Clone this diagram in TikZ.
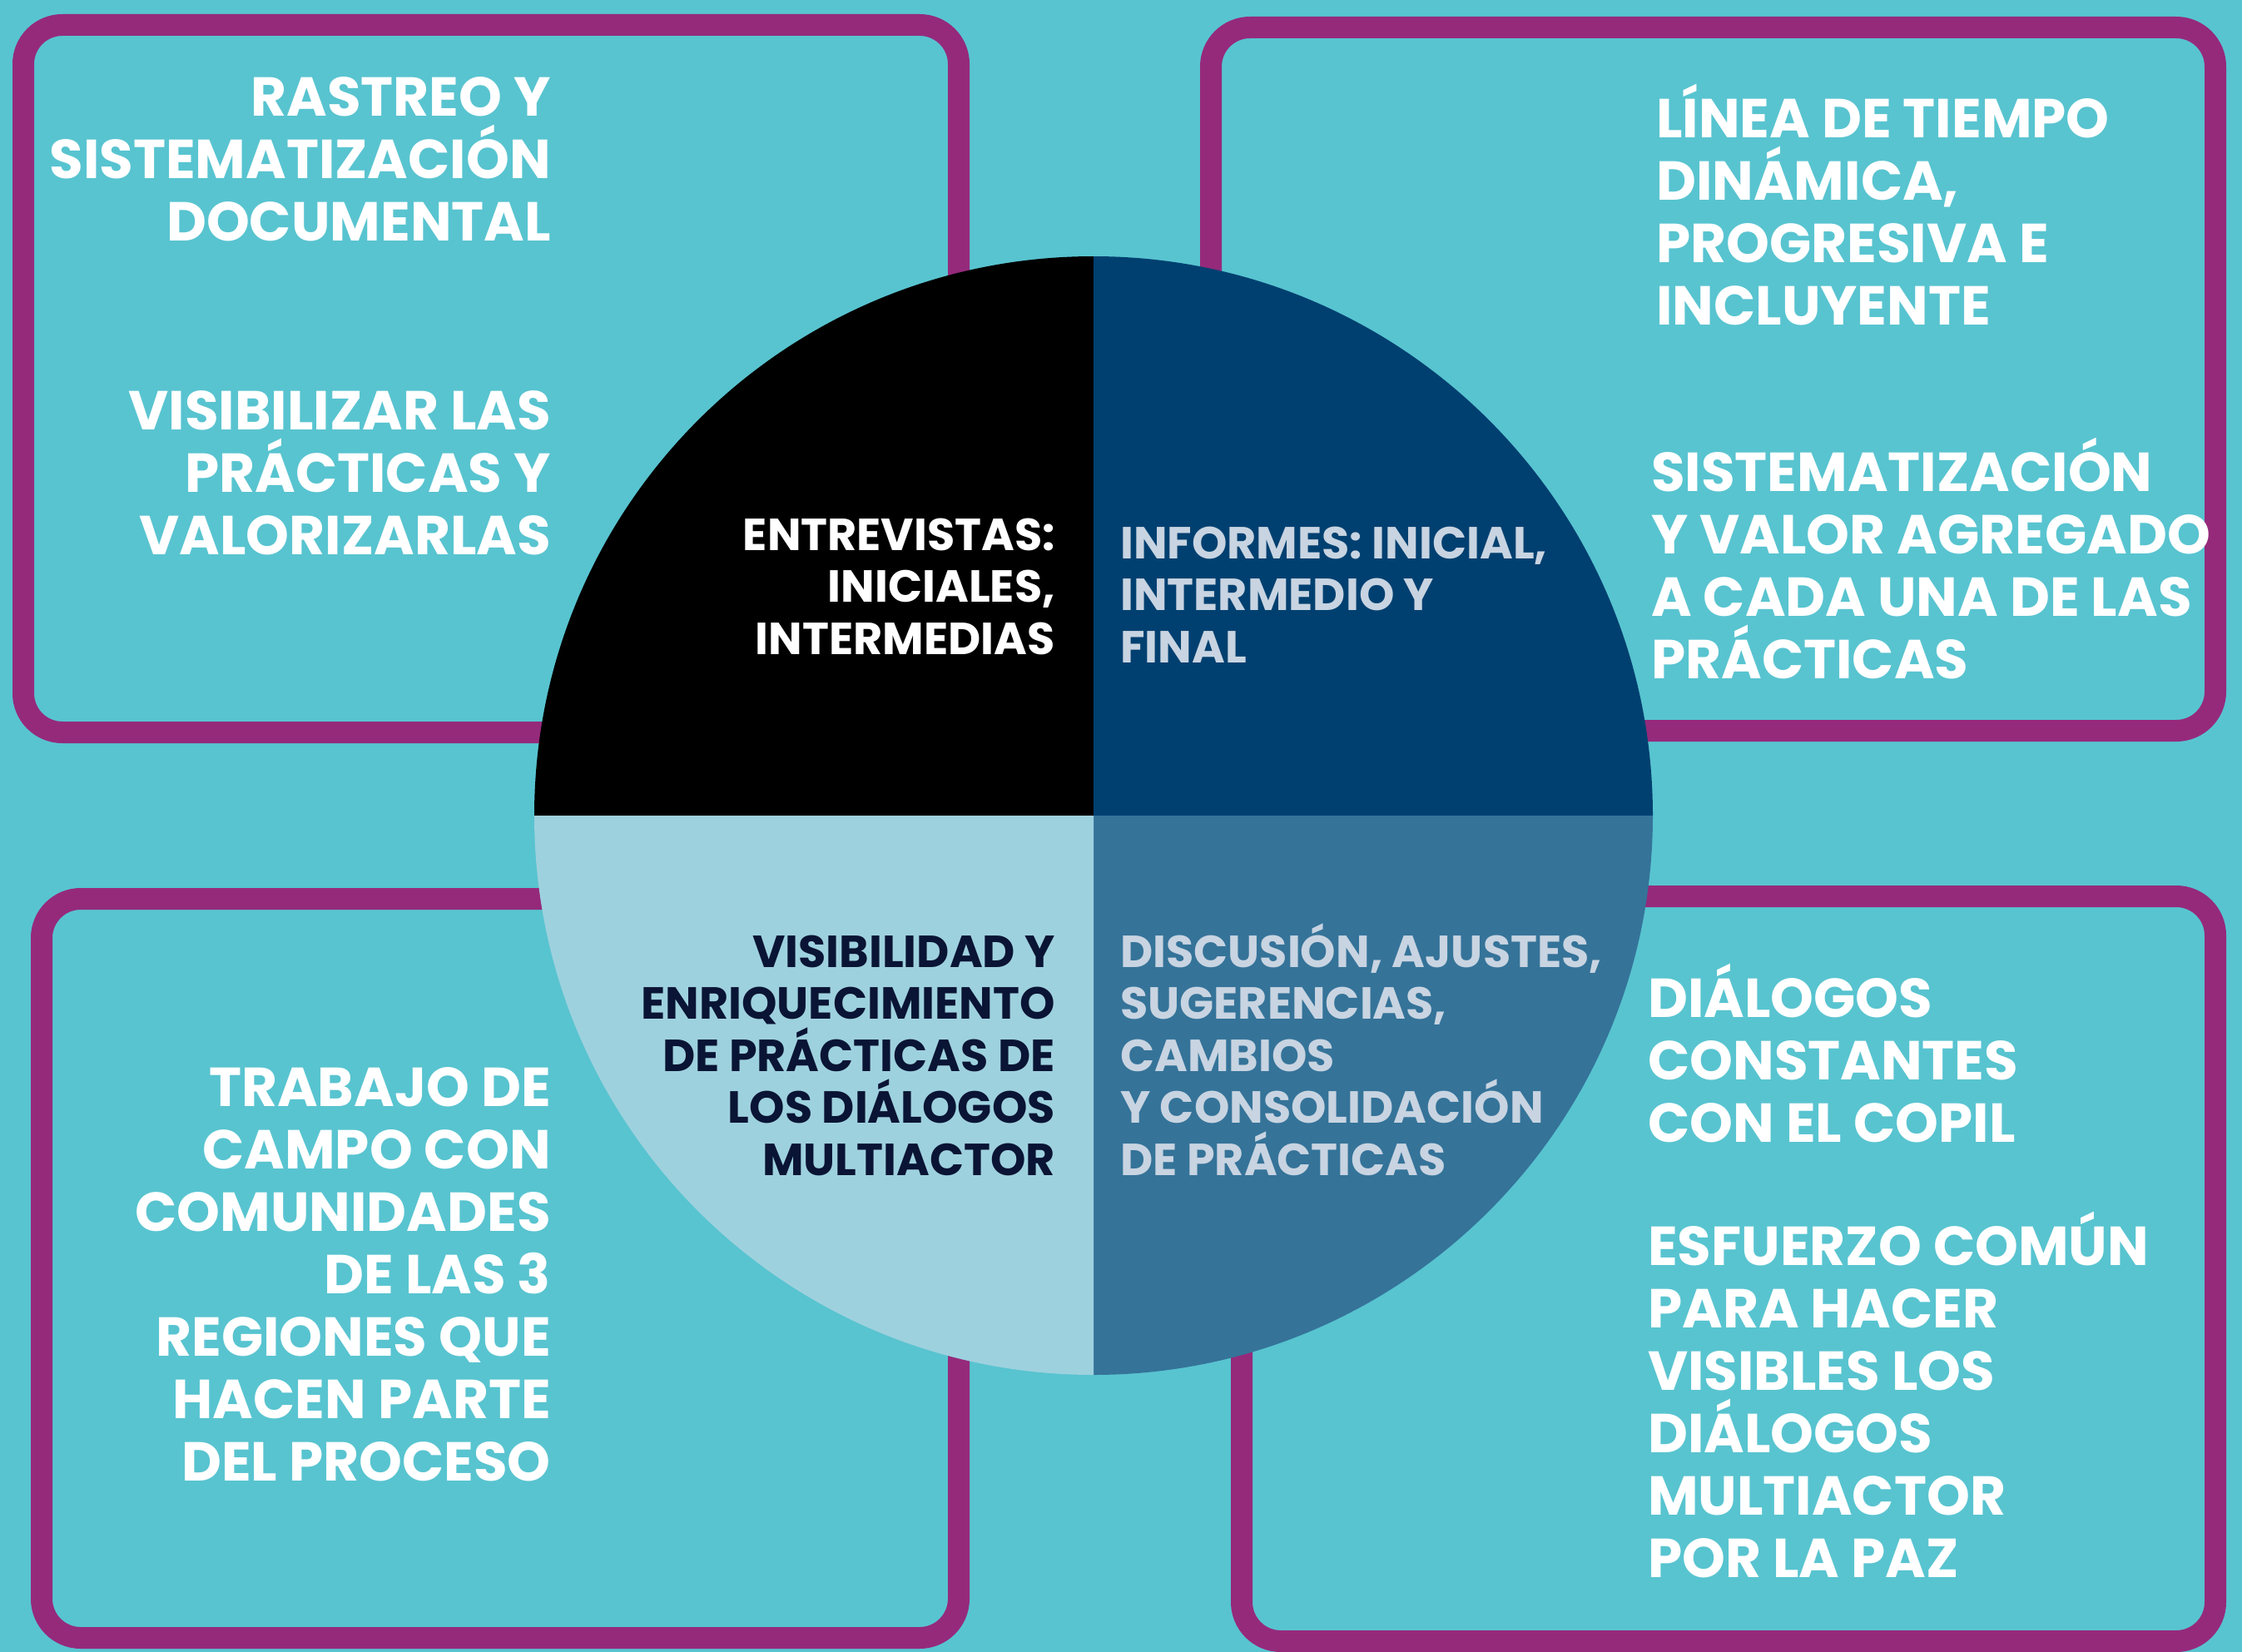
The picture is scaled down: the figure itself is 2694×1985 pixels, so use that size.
\documentclass[tikz,border=0pt]{standalone}
\usepackage{fontspec}
\setmainfont{Poppins}
\definecolor{bgteal}{RGB}{88,196,208}
\definecolor{purp}{RGB}{149,42,123}
\definecolor{navy}{RGB}{0,64,112}
\definecolor{steel}{RGB}{53,115,153}
\definecolor{pale}{RGB}{158,209,222}
\definecolor{lighttxt}{RGB}{200,212,225}
\definecolor{darktxt}{RGB}{10,20,52}
\begin{document}
\begin{tikzpicture}[x=1pt,y=-1pt,
  boxline/.style={draw=purp, line width=26pt, rounded corners=47pt},
  outtxt/.style={text=white, font=\bfseries\fontsize{66}{75}\selectfont, inner sep=0pt},
  pietxt/.style={font=\bfseries\fontsize{54}{62.5}\selectfont, inner sep=0pt},
]
\useasboundingbox (0,0) rectangle (2694,1985);
\fill[bgteal] (0,0) rectangle (2694,1985);
% frames
\draw[boxline] (28,30) rectangle (1152,880);
\draw[boxline] (1455,33) rectangle (2662,878);
\draw[boxline] (50,1080) rectangle (1152,1968);
\draw[boxline] (1492,1077) rectangle (2662,1972);
% pie
\coordinate (c) at (1314,980);
\fill[black] (c) -- ++(-672,0) arc[start angle=180,end angle=270,radius=672] -- cycle;
\fill[navy] (c) -- ++(0,-672) arc[start angle=270,end angle=360,radius=672] -- cycle;
\fill[steel] (c) -- ++(672,0) arc[start angle=0,end angle=90,radius=672] -- cycle;
\fill[pale] (c) -- ++(0,672) arc[start angle=90,end angle=180,radius=672] -- cycle;
% outer texts (anchor = baseline of last line)
\node[outtxt, anchor=base east, align=right] (tl1) at (662,290) {RASTREO Y\\SISTEMATIZACIÓN\\DOCUMENTAL};
\node[outtxt, anchor=base east, align=right] (tl2) at (662,666) {VISIBILIZAR LAS\\PRÁCTICAS Y\\VALORIZARLAS};
\node[outtxt, anchor=base west, align=left] (tr1) at (1990,390) {LÍNEA DE TIEMPO\\DINÁMICA,\\PROGRESIVA E\\INCLUYENTE};
\node[outtxt, anchor=base west, align=left] (tr2) at (1984,815) {SISTEMATIZACIÓN\\Y VALOR AGREGADO\\A CADA UNA DE LAS\\PRÁCTICAS};
\node[outtxt, anchor=base east, align=right] (bl1) at (662,1779) {TRABAJO DE\\CAMPO CON\\COMUNIDADES\\DE LAS 3\\REGIONES QUE\\HACEN PARTE\\DEL PROCESO};
\node[outtxt, anchor=base west, align=left] (br1) at (1980,1372) {DIÁLOGOS\\CONSTANTES\\CON EL COPIL};
\node[outtxt, anchor=base west, align=left] (br2) at (1980,1895) {ESFUERZO COMÚN\\PARA HACER\\VISIBLES LOS\\DIÁLOGOS\\MULTIACTOR\\POR LA PAZ};
% pie texts
\node[pietxt, text=white, anchor=base east, align=right] (q1) at (1268,786) {ENTREVISTAS:\\INICIALES,\\INTERMEDIAS};
\node[pietxt, text=lighttxt, anchor=base west, align=left] (q2) at (1346,796) {INFORMES: INICIAL,\\INTERMEDIO Y\\FINAL};
\node[pietxt, text=darktxt, anchor=base east, align=right] (q3) at (1268,1412) {VISIBILIDAD Y\\ENRIQUECIMIENTO\\DE PRÁCTICAS DE\\LOS DIÁLOGOS\\MULTIACTOR};
\node[pietxt, text=lighttxt, anchor=base west, align=left] (q4) at (1346,1412) {DISCUSIÓN, AJUSTES,\\SUGERENCIAS,\\CAMBIOS\\Y CONSOLIDACIÓN\\DE PRÁCTICAS};
\end{tikzpicture}
\end{document}
